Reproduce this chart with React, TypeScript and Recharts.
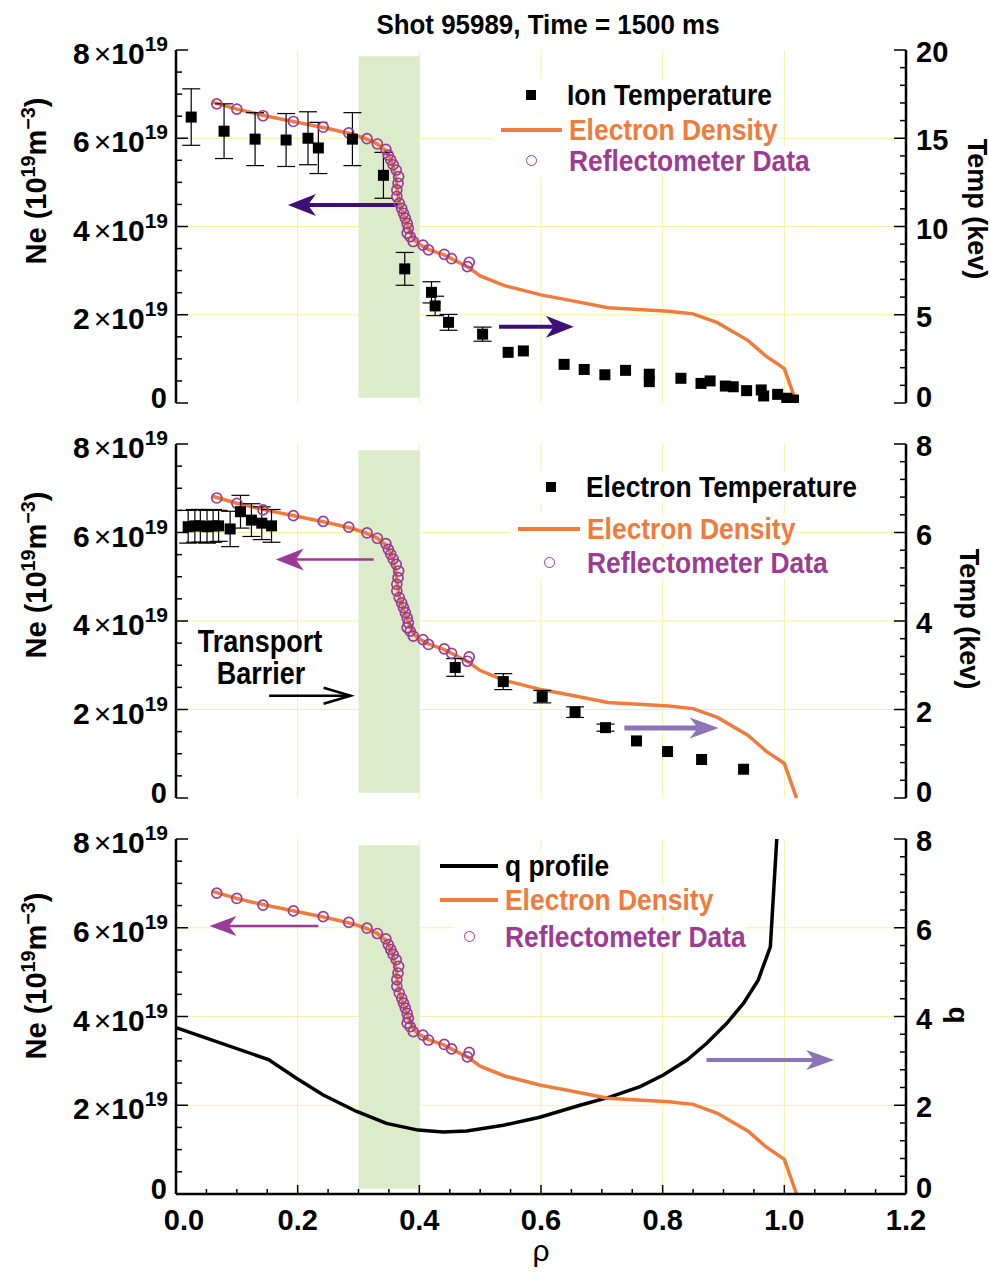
import React from 'react';
import {
  ComposedChart, Line, Scatter, XAxis, YAxis, CartesianGrid,
  ErrorBar, ReferenceArea, ReferenceLine,
} from 'recharts';

const NARROW = '"Liberation Sans Narrow", "Arial Narrow", "Liberation Sans", Arial, sans-serif';
const WIDE = '"Liberation Sans", Arial, sans-serif';

const ORANGE = '#ef7b3d';
const PURPLE = '#9b3c94';
const INDIGO = '#3b1177';
const MAGENTA = '#9a3b98';
const LAVENDER = '#8b74b7';
const GRID = '#f6f29c';
const BAND = '#dcebca';

// axis ticks
const rhoTicks = [0, 0.05, 0.1, 0.15, 0.2, 0.25, 0.3, 0.35, 0.4, 0.45, 0.5, 0.55, 0.6, 0.65, 0.7, 0.75, 0.8, 0.85, 0.9, 0.95, 1, 1.05, 1.1, 1.15, 1.2];
const neTicks = [0, 0.5, 1, 1.5, 2, 2.5, 3, 3.5, 4, 4.5, 5, 5.5, 6, 6.5, 7, 7.5, 8];
const tiTicks = [0, 1, 2, 3, 4, 5, 6, 7, 8, 9, 10, 11, 12, 13, 14, 15, 16, 17, 18, 19, 20];
const smallTicks = [0, 0.4, 0.8, 1.2, 1.6, 2, 2.4, 2.8, 3.2, 3.6, 4, 4.4, 4.8, 5.2, 5.6, 6, 6.4, 6.8, 7.2, 7.6, 8];
const gridRho = [0.2, 0.4, 0.6, 0.8, 1.0];
const gridNe = [2, 4, 6];

// electron density fit, 1e19 m^-3
const densityRho = [0.06, 0.1, 0.15, 0.2, 0.25, 0.29, 0.31, 0.33, 0.345, 0.352, 0.358, 0.362, 0.364, 0.367, 0.372, 0.378, 0.384, 0.391, 0.4, 0.415, 0.44, 0.46, 0.48, 0.5, 0.54, 0.6, 0.65, 0.71, 0.76, 0.81, 0.85, 0.89, 0.94, 0.97, 1.0, 1.02];
const densityNe = [6.82, 6.66, 6.5, 6.36, 6.22, 6.09, 6.0, 5.88, 5.72, 5.55, 5.32, 5.05, 4.8, 4.55, 4.35, 4.12, 3.9, 3.7, 3.6, 3.48, 3.36, 3.22, 3.08, 2.88, 2.66, 2.45, 2.32, 2.16, 2.12, 2.08, 2.02, 1.82, 1.42, 1.06, 0.78, 0];

// reflectometer points
const reflRho = [0.067, 0.1, 0.143, 0.193, 0.242, 0.284, 0.314, 0.331, 0.345, 0.349, 0.353, 0.357, 0.362, 0.366, 0.365, 0.363, 0.363, 0.367, 0.371, 0.374, 0.377, 0.38, 0.382, 0.38, 0.385, 0.39, 0.406, 0.415, 0.441, 0.453, 0.479, 0.482];
const reflNe = [6.78, 6.66, 6.51, 6.38, 6.25, 6.12, 5.99, 5.87, 5.75, 5.62, 5.51, 5.4, 5.28, 5.13, 4.98, 4.83, 4.68, 4.53, 4.41, 4.3, 4.19, 4.07, 3.96, 3.85, 3.77, 3.66, 3.58, 3.47, 3.37, 3.27, 3.09, 3.19];

// ion temperature, keV
const tiRho = [0.025, 0.079, 0.13, 0.181, 0.217, 0.234, 0.29, 0.341, 0.376, 0.42, 0.426, 0.448, 0.504, 0.546, 0.571, 0.638, 0.671, 0.705, 0.739, 0.778, 0.778, 0.83, 0.863, 0.878, 0.903, 0.916, 0.938, 0.962, 0.966, 0.989, 1.004, 1.015];
const tiKev = [16.2, 15.4, 14.95, 14.9, 15.0, 14.45, 14.95, 12.9, 7.6, 6.27, 5.5, 4.57, 3.9, 2.87, 2.95, 2.19, 1.9, 1.6, 1.85, 1.63, 1.21, 1.4, 1.11, 1.25, 0.96, 0.92, 0.7, 0.74, 0.4, 0.49, 0.27, 0.17];
const tiErr = [1.6, 1.55, 1.5, 1.5, 1.5, 1.45, 1.5, 1.3, 0.93, 0.6, 0.55, 0.45, 0.4, 0, 0, 0, 0, 0, 0, 0, 0, 0, 0, 0, 0, 0, 0, 0, 0, 0, 0, 0];

// electron temperature, keV
const teRho = [0.02, 0.031, 0.04, 0.051, 0.061, 0.07, 0.089, 0.106, 0.124, 0.141, 0.157, 0.459, 0.538, 0.602, 0.656, 0.706, 0.757, 0.808, 0.864, 0.933];
const teKev = [6.13, 6.15, 6.15, 6.13, 6.15, 6.15, 6.08, 6.47, 6.28, 6.21, 6.15, 2.95, 2.63, 2.29, 1.94, 1.59, 1.29, 1.05, 0.87, 0.65];
const teErr = [0.37, 0.37, 0.37, 0.37, 0.37, 0.35, 0.4, 0.37, 0.37, 0.37, 0.37, 0.2, 0.18, 0.14, 0.12, 0.08, 0, 0, 0, 0];

// safety factor
const qRho = [0, 0.152, 0.198, 0.242, 0.297, 0.346, 0.398, 0.439, 0.478, 0.538, 0.598, 0.664, 0.714, 0.763, 0.801, 0.84, 0.872, 0.905, 0.933, 0.957, 0.977, 0.988];
const qVal = [3.75, 3.03, 2.61, 2.23, 1.86, 1.59, 1.44, 1.4, 1.42, 1.55, 1.73, 2.0, 2.19, 2.42, 2.68, 3.02, 3.39, 3.84, 4.3, 4.82, 5.57, 8.1];

// arrow annotations (rho from -> to, at density level)
const arrowsTop = [
  { from: 0.365, to: 0.184, ne: 4.49 },
  { from: 0.531, to: 0.654, ne: 1.73 },
];
const arrowsMid = [
  { from: 0.325, to: 0.164, ne: 5.39 },
  { from: 0.737, to: 0.892, ne: 1.58 },
  { from: 0.153, to: 0.287, ne: 2.31 },
];
const arrowsBot = [
  { from: 0.234, to: 0.055, ne: 6.04 },
  { from: 0.872, to: 1.082, ne: 3.02 },
];

const density = densityRho.map((x, i) => ({ x, ne: densityNe[i] }));
const refl = reflRho.map((x, i) => ({ x, ne: reflNe[i] }));
const ionTemp = tiRho.map((x, i) => ({ x, t: tiKev[i], err: tiErr[i] }));
const elecTemp = teRho.map((x, i) => ({ x, t: teKev[i], err: teErr[i] }));
const qProfile = qRho.map((x, i) => ({ x, q: qVal[i] }));

const near = (v: number, step: number) => Math.abs(v / step - Math.round(v / step)) < 1e-6;

const xTick = (labels: boolean, dir: number) => (p: any) => {
  const v = p.payload.value;
  const major = near(v, 0.2);
  return (
    <g>
      <line x1={p.x} x2={p.x} y1={p.y} y2={p.y + dir * (major ? 9 : 5)} stroke="#000" strokeWidth={1.5} />
      {labels && major && (
        <text x={p.x + (v === 0 ? 8 : 0)} y={p.y + 36} textAnchor="middle" fontFamily={NARROW} fontWeight={700} fontSize={29} fill="#000">
          {v.toFixed(1)}
        </text>
      )}
    </g>
  );
};

const neTick = (p: any) => {
  const v = p.payload.value;
  const major = near(v, 2);
  return (
    <g>
      <line x1={p.x} x2={p.x + (major ? 12 : 6)} y1={p.y} y2={p.y} stroke="#000" strokeWidth={1.5} />
      {major && v === 0 && (
        <text x={p.x - 9} y={p.y + 5} textAnchor="end" fontFamily={NARROW} fontWeight={700} fontSize={29} fill="#000">0</text>
      )}
      {major && v !== 0 && (
        <text x={p.x - 8} y={p.y + 14} textAnchor="end" fontFamily={NARROW} fontWeight={700} fontSize={30} fill="#000">
          {v}
          <tspan dx={4} fontWeight={400}>×</tspan>
          <tspan>10</tspan>
          <tspan dy={-13} fontSize={21}>19</tspan>
        </text>
      )}
    </g>
  );
};

const rightTick = (step: number) => (p: any) => {
  const v = p.payload.value;
  const major = near(v, step);
  return (
    <g>
      <line x1={p.x} x2={p.x - (major ? 12 : 6)} y1={p.y} y2={p.y} stroke="#000" strokeWidth={1.5} />
      {major && (
        <text x={p.x + 10} y={p.y + (v === 0 ? 4 : 12)} textAnchor="start" fontFamily={NARROW} fontWeight={700} fontSize={29} fill="#000">
          {Math.round(v)}
        </text>
      )}
    </g>
  );
};

const arrowShape = (color: string, w: number, len: number, half: number, open = false) => (p: any) => {
  const { x1, y1, x2, y2 } = p;
  const dir = x2 > x1 ? 1 : -1;
  const back = x2 - dir * len;
  if (open) {
    return (
      <g>
        <line x1={x1} y1={y1} x2={x2} y2={y2} stroke={color} strokeWidth={w} />
        <polyline points={`${back},${y2 - half} ${x2},${y2} ${back},${y2 + half}`} fill="none" stroke={color} strokeWidth={w} />
      </g>
    );
  }
  const notch = x2 - dir * len * 0.72;
  return (
    <g>
      <line x1={x1} y1={y1} x2={notch} y2={y2} stroke={color} strokeWidth={w} />
      <polygon points={`${x2},${y2} ${back},${y2 - half} ${notch},${y2} ${back},${y2 + half}`} fill={color} />
    </g>
  );
};

const arrowLine = (a: { from: number; to: number; ne: number }, key: string, shape: any) => (
  <ReferenceLine key={key} yAxisId="left" segment={[{ x: a.from, y: a.ne }, { x: a.to, y: a.ne }]} shape={shape} />
);

const square = (p: any) => <rect x={p.cx - 5.5} y={p.cy - 5.5} width={11} height={11} fill="#000" />;
const ring = (p: any) => <circle cx={p.cx} cy={p.cy} r={5} fill="none" stroke={PURPLE} strokeWidth={1.7} />;

function frame(xLabels: boolean, rightMax: number, rightTicks: number[], rightStep: number) {
  return [
    <CartesianGrid key="grid" yAxisId="left" horizontalValues={gridNe} verticalValues={gridRho} stroke={GRID} strokeWidth={1} />,
    <XAxis key="xb" type="number" dataKey="x" domain={[0, 1.2]} ticks={rhoTicks} interval={0}
      height={xLabels ? 80 : 0} tickSize={0} tickMargin={0} tickLine={false}
      axisLine={{ stroke: '#000', strokeWidth: 2.5 }} tick={xTick(xLabels, -1)} />,
    <XAxis key="xt" xAxisId="top" orientation="top" type="number" dataKey="x" domain={[0, 1.2]} ticks={rhoTicks} interval={0}
      height={0} tickSize={0} tickMargin={0} tickLine={false}
      axisLine={{ stroke: '#000', strokeWidth: 2.5 }} tick={xTick(false, 1)} />,
    <YAxis key="yl" yAxisId="left" type="number" domain={[0, 8]} ticks={neTicks} interval={0} width={176}
      tickSize={0} tickMargin={0} tickLine={false} axisLine={{ stroke: '#000', strokeWidth: 2.5 }} tick={neTick} />,
    <YAxis key="yr" yAxisId="right" orientation="right" type="number" domain={[0, rightMax]} ticks={rightTicks} interval={0}
      width={84} allowDataOverflow tickSize={0} tickMargin={0} tickLine={false}
      axisLine={{ stroke: '#000', strokeWidth: 2.5 }} tick={rightTick(rightStep)} />,
    <ReferenceArea key="band" yAxisId="left" x1={0.3} x2={0.4} y1={0.12} y2={7.86} fill={BAND} fillOpacity={1} stroke="none" />,
  ];
}

function densitySeries() {
  return [
    <Line key="ne" yAxisId="left" data={density} dataKey="ne" type="linear" stroke={ORANGE} strokeWidth={3.5}
      dot={false} activeDot={false} isAnimationActive={false} />,
    <Scatter key="refl" yAxisId="left" data={refl} dataKey="ne" shape={ring} isAnimationActive={false} />,
  ];
}

// text squeezed horizontally to mimic the condensed bold face of the original
function Txt({ x, cy, fs, color = '#000', anchor = 'start', weight = 700, family = NARROW, bg, squeeze = 1, children }: any) {
  const shift = anchor === 'middle' ? 'translateX(-50%) ' : '';
  return (
    <div style={{
      position: 'absolute', left: x, top: cy - 0.49 * fs, fontSize: fs, lineHeight: `${fs}px`, fontFamily: family,
      fontWeight: weight, color, whiteSpace: 'nowrap', background: bg,
      transform: `${shift}scaleX(${squeeze})`, transformOrigin: anchor === 'middle' ? 'center' : 'left center',
    }}>{children}</div>
  );
}

function VText({ cx, cy, fs, angle, children }: any) {
  return (
    <div style={{
      position: 'absolute', left: cx, top: cy, fontSize: fs, lineHeight: `${fs}px`, fontFamily: WIDE, fontWeight: 700,
      whiteSpace: 'nowrap', transform: `translate(-50%, -50%) rotate(${angle}deg)`,
    }}>{children}</div>
  );
}

const sup = (s: string) => (
  <span style={{ fontSize: '0.68em', position: 'relative', top: '-0.55em' }}>{s}</span>
);

function NeLabel({ cy }: { cy: number }) {
  return <VText cx={38} cy={cy} fs={29} angle={-90}>Ne (10{sup('19')}m{sup('−3')})</VText>;
}

type Row = { sym: 'square' | 'line' | 'circle'; sx: number; sx2?: number; cy: number; tx: number; label: string; color: string; symColor: string };

function LegendRows({ rows }: { rows: Row[] }) {
  return (
    <>
      {rows.map((r) => {
        const left = r.sym === 'line' ? r.sx - 8 : r.sx - 16;
        return (
          <React.Fragment key={r.label}>
            <div style={{ position: 'absolute', left, top: r.cy - 16, width: r.tx - left + 4, height: 32, background: '#fff' }} />
            {r.sym === 'square' && <div style={{ position: 'absolute', left: r.sx - 5, top: r.cy - 5, width: 10, height: 10, background: r.symColor }} />}
            {r.sym === 'circle' && <div style={{ position: 'absolute', left: r.sx - 6, top: r.cy - 6, width: 9, height: 9, borderRadius: '50%', border: `1.7px solid ${r.symColor}` }} />}
            {r.sym === 'line' && <div style={{ position: 'absolute', left: r.sx, top: r.cy - 2, width: (r.sx2 as number) - r.sx, height: 4, background: r.symColor }} />}
            <Txt x={r.tx} cy={r.cy} fs={30} color={r.color} bg="#fff" squeeze={0.88}>{r.label}</Txt>
          </React.Fragment>
        );
      })}
    </>
  );
}

const legendTop: Row[] = [
  { sym: 'square', sx: 531, cy: 95, tx: 567, label: 'Ion Temperature', color: '#000', symColor: '#000' },
  { sym: 'line', sx: 501, sx2: 562, cy: 130, tx: 569, label: 'Electron Density', color: ORANGE, symColor: ORANGE },
  { sym: 'circle', sx: 532, cy: 161, tx: 569, label: 'Reflectometer Data', color: PURPLE, symColor: PURPLE },
];
const legendMid: Row[] = [
  { sym: 'square', sx: 551, cy: 487, tx: 586, label: 'Electron Temperature', color: '#000', symColor: '#000' },
  { sym: 'line', sx: 518, sx2: 580, cy: 529, tx: 587, label: 'Electron Density', color: ORANGE, symColor: ORANGE },
  { sym: 'circle', sx: 550, cy: 563, tx: 587, label: 'Reflectometer Data', color: PURPLE, symColor: PURPLE },
];
const legendBot: Row[] = [
  { sym: 'line', sx: 440, sx2: 498, cy: 866, tx: 505, label: 'q profile', color: '#000', symColor: '#000' },
  { sym: 'line', sx: 440, sx2: 498, cy: 900, tx: 505, label: 'Electron Density', color: ORANGE, symColor: ORANGE },
  { sym: 'circle', sx: 470, cy: 937, tx: 505, label: 'Reflectometer Data', color: PURPLE, symColor: PURPLE },
];

export default function App() {
  return (
    <div style={{ position: 'absolute', left: 0, top: 0, width: 990, height: 1274, background: '#fff', overflow: 'hidden' }}>
      <div style={{ position: 'absolute', left: 0, top: 0 }}>
        <ComposedChart width={990} height={420} margin={{ top: 50, right: 0, bottom: 17, left: 0 }}>
          {frame(false, 20, tiTicks, 5)}
          {densitySeries()}
          <Scatter yAxisId="right" data={ionTemp} dataKey="t" shape={square} isAnimationActive={false}>
            <ErrorBar dataKey="err" direction="y" width={9} stroke="#000" strokeWidth={1.2} />
          </Scatter>
          {arrowLine(arrowsTop[0], 'a1', arrowShape(INDIGO, 4, 28, 11))}
          {arrowLine(arrowsTop[1], 'a2', arrowShape(INDIGO, 4, 28, 11))}
        </ComposedChart>
      </div>

      <div style={{ position: 'absolute', left: 0, top: 420 }}>
        <ComposedChart width={990} height={400} margin={{ top: 24, right: 0, bottom: 22, left: 0 }}>
          {frame(false, 8, smallTicks, 2)}
          {densitySeries()}
          <Scatter yAxisId="right" data={elecTemp} dataKey="t" shape={square} isAnimationActive={false}>
            <ErrorBar dataKey="err" direction="y" width={9} stroke="#000" strokeWidth={1.2} />
          </Scatter>
          {arrowLine(arrowsMid[0], 'b1', arrowShape(MAGENTA, 2.5, 28, 11))}
          {arrowLine(arrowsMid[1], 'b2', arrowShape(LAVENDER, 5, 29, 10.5))}
          {arrowLine(arrowsMid[2], 'b3', arrowShape('#000', 2.5, 27, 8, true))}
        </ComposedChart>
      </div>

      <div style={{ position: 'absolute', left: 0, top: 820 }}>
        <ComposedChart width={990} height={454} margin={{ top: 19, right: 0, bottom: 0, left: 0 }}>
          {frame(true, 8, smallTicks, 2)}
          <Line yAxisId="right" data={qProfile} dataKey="q" type="linear" stroke="#000" strokeWidth={3.5}
            dot={false} activeDot={false} isAnimationActive={false} />
          {densitySeries()}
          {arrowLine(arrowsBot[0], 'c1', arrowShape(MAGENTA, 2.5, 27, 10))}
          {arrowLine(arrowsBot[1], 'c2', arrowShape(LAVENDER, 4, 28, 10))}
        </ComposedChart>
      </div>

      <Txt x={548} cy={25} fs={27} family={WIDE} anchor="middle" squeeze={0.96}>Shot 95989, Time = 1500 ms</Txt>

      <NeLabel cy={181} />
      <NeLabel cy={575} />
      <NeLabel cy={976} />
      <VText cx={976} cy={209} fs={27} angle={90}>Temp (kev)</VText>
      <VText cx={968} cy={619} fs={27} angle={90}>Temp (kev)</VText>
      <VText cx={958} cy={1015} fs={28} angle={90}>q</VText>

      <LegendRows rows={legendTop} />
      <LegendRows rows={legendMid} />
      <LegendRows rows={legendBot} />

      <Txt x={260} cy={641} fs={31} anchor="middle" squeeze={0.87}>Transport</Txt>
      <Txt x={261} cy={673} fs={31} anchor="middle" squeeze={0.87}>Barrier</Txt>

      <Txt x={541} cy={1251} fs={30} weight={400} family={WIDE} anchor="middle">ρ</Txt>
    </div>
  );
}
